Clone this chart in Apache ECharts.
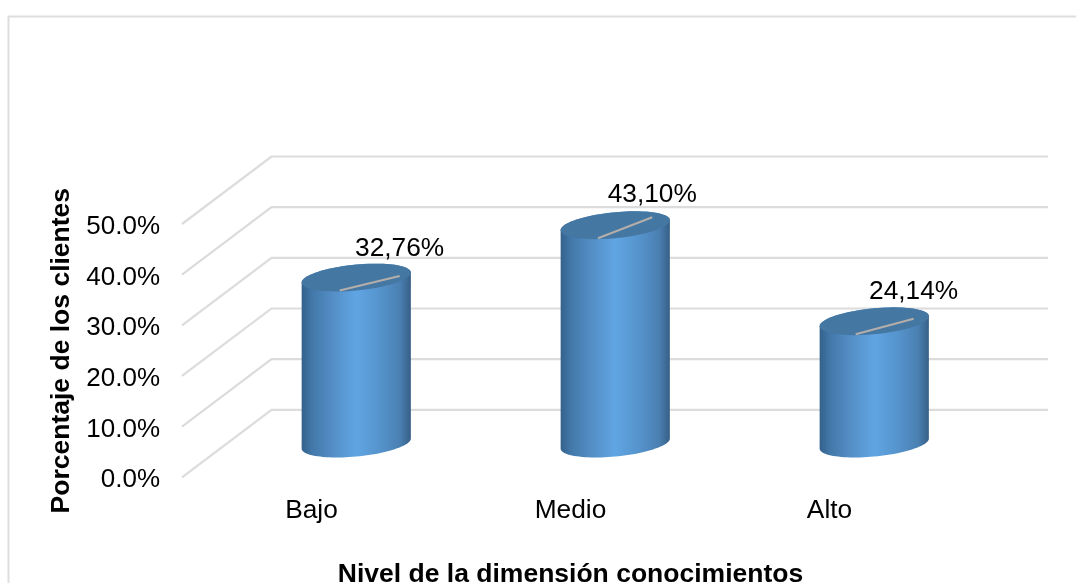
<!DOCTYPE html>
<html>
<head>
<meta charset="utf-8">
<style>html,body{margin:0;padding:0;background:#fff}#c{width:1076px;height:583px}</style>
<script src="https://cdn.jsdelivr.net/npm/echarts@6/dist/echarts.min.js"></script>
</head>
<body>
<div id="c"></div>
<script>
const categories = ['Bajo', 'Medio', 'Alto'];
const values = [32.76, 43.10, 24.14];
const valueLabels = ['32,76%', '43,10%', '24,14%'];
const yTicks = [0, 10, 20, 30, 40, 50];
const xTitle = 'Nivel de la dimensión conocimientos';
const yTitle = 'Porcentaje de los clientes';

// 3D look: depth of the floor and size of the cylinder caps
const depthX = 89.5, depthY = 67.5;
const halfW = 54.6, capB = 13, capTilt = 5;
// leader line ends, relative to the centre of each cap
const leaderFrom = [[-16.6, 13], [-17.3, 13], [-18.6, 13]];
const leaderTo = [[43.4, -1.5], [37, -8], [39.4, -2.5]];
const labelGap = [27, 22, 27];

const font = '"Liberation Sans", Arial, sans-serif';
const chart = echarts.init(document.getElementById('c'), null, {renderer: 'canvas'});

function capPoint(c, t) {
  return [c[0] + halfW * Math.cos(t), c[1] + capB * Math.sin(t) - capTilt * Math.cos(t)];
}
function arc(c, from, to) {
  const pts = [], n = 48;
  for (let i = 0; i <= n; i++) pts.push(capPoint(c, from + (to - from) * i / n));
  return pts;
}

chart.setOption({
  animation: false,
  backgroundColor: '#ffffff',
  graphic: [{
    type: 'polyline', silent: true, z: 0,
    shape: {points: [[8.5, 583], [8.5, 16.5], [1076, 16.5]]},
    style: {stroke: '#dedede', lineWidth: 2, fill: null}
  }],
  grid: {left: 182, right: 117, top: 224, bottom: 105.7, containLabel: false, outerBoundsMode: 'none'},
  xAxis: {
    type: 'category', data: categories, boundaryGap: true,
    axisLine: {show: false}, axisTick: {show: false}, splitLine: {show: false},
    axisLabel: {color: '#000', fontFamily: font, fontSize: 26.3, margin: 20},
    name: xTitle, nameLocation: 'middle', nameGap: 84,
    nameTextStyle: {color: '#000', fontFamily: font, fontSize: 26.5, fontWeight: 'bold'}
  },
  yAxis: {
    type: 'value', min: 0, max: 50, interval: 10,
    axisLine: {show: false}, axisTick: {show: false}, splitLine: {show: false},
    axisLabel: {color: '#000', fontFamily: font, fontSize: 26, margin: 22,
      formatter: v => '{t|' + v.toFixed(1) + '%}',
      rich: {t: {color: '#000', fontFamily: font, fontSize: 26, padding: [6, 0, 0, 0]}}},
    name: yTitle, nameLocation: 'middle', nameGap: 102,
    nameTextStyle: {color: '#000', fontFamily: font, fontSize: 26.5, fontWeight: 'bold'}
  },
  series: [
    {
      type: 'custom', coordinateSystem: 'cartesian2d', silent: true, z: 1,
      encode: {x: 0, y: 1},
      data: yTicks.map(v => [0, v]),
      renderItem(params, api) {
        const cs = params.coordSys;
        const y = api.coord([0, api.value(1)])[1];
        const xb = cs.x + depthX, yb = y - depthY;
        return {
          type: 'polyline',
          shape: {points: [[cs.x, y], [xb, yb], [xb + cs.width - 0.5, yb]]},
          style: {stroke: '#dcdcdc', lineWidth: 2.2, fill: null}
        };
      }
    },
    {
      type: 'custom', coordinateSystem: 'cartesian2d', silent: true, z: 2,
      encode: {x: 0, y: 1},
      data: values.map((v, i) => [i, v]),
      renderItem(params, api) {
        const i = params.dataIndex;
        const t = api.coord([i, api.value(1)]);
        const b = api.coord([i, 0]);
        const top = [t[0] + depthX / 2, t[1] - depthY / 2];
        const base = [b[0] + depthX / 2, b[1] - depthY / 2];
        const body = arc(top, Math.PI, 2 * Math.PI).concat(arc(base, 0, Math.PI));
        const cap = arc(top, 0, 2 * Math.PI);
        const from = [top[0] + leaderFrom[i][0], top[1] + leaderFrom[i][1]];
        const to = [top[0] + leaderTo[i][0], top[1] + leaderTo[i][1]];
        return {
          type: 'group',
          children: [
            {type: 'polygon', shape: {points: body}, style: {
              fill: new echarts.graphic.LinearGradient(0, 0, 1, 0, [
                {offset: 0, color: '#34618b'},
                {offset: 0.1, color: '#4379aa'},
                {offset: 0.3, color: '#5590c8'},
                {offset: 0.5, color: '#60a5e3'},
                {offset: 0.72, color: '#5593cc'},
                {offset: 0.9, color: '#4a80b2'},
                {offset: 1, color: '#365f87'}
              ])
            }},
            {type: 'polygon', shape: {points: cap}, style: {fill: '#4577a3'}},
            {type: 'line', shape: {x1: from[0], y1: from[1], x2: to[0], y2: to[1]},
              style: {stroke: '#b3aeaa', lineWidth: 2}},
            {type: 'text', style: {
              text: valueLabels[i], x: to[0], y: to[1] - labelGap[i],
              align: 'center', verticalAlign: 'middle',
              fill: '#000', font: '26.3px ' + font
            }}
          ]
        };
      }
    }
  ]
});
</script>
</body>
</html>
